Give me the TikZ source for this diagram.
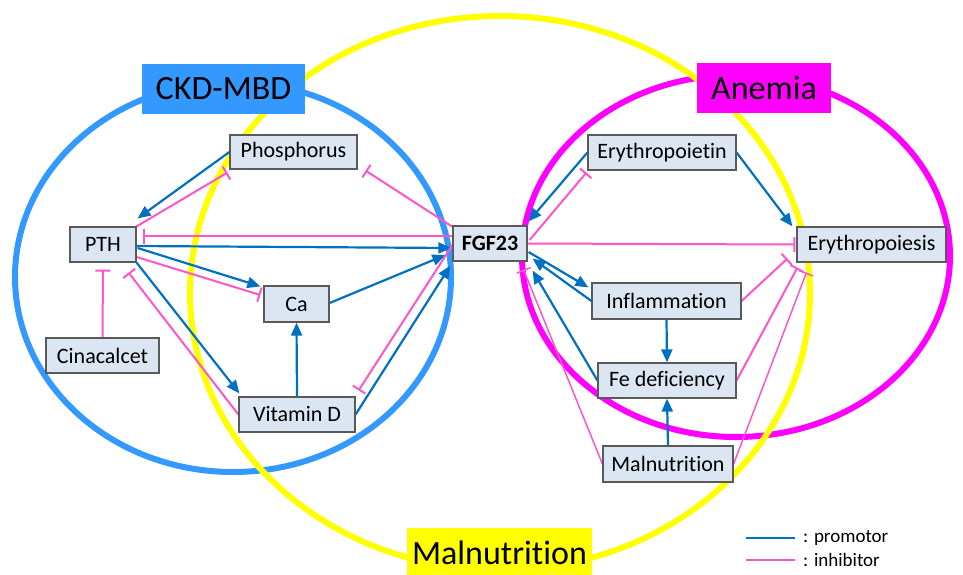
\documentclass[tikz,border=0pt]{standalone}
\usepackage{fontspec}
\setmainfont{Carlito}[Ligatures=NoCommon]
\usetikzlibrary{arrows.meta,calc}
\definecolor{promo}{RGB}{0,112,192}
\definecolor{inhib}{RGB}{255,85,200}
\definecolor{ckdblue}{RGB}{51,153,255}
\definecolor{anemag}{RGB}{255,0,255}
\definecolor{malyel}{RGB}{255,255,0}
\definecolor{boxfill}{RGB}{220,230,242}
\definecolor{boxline}{RGB}{90,90,90}
\pgfdeclarelayer{rings}
\pgfdeclarelayer{links}
\pgfsetlayers{rings,links,main}
\begin{document}
\begin{tikzpicture}[x=1pt,y=-1pt,
  factor/.style={draw=boxline,line width=1.2pt,fill=boxfill,inner sep=0pt,font=\fontsize{22}{26}\selectfont},
  grouplabel/.style={inner sep=0pt,font=\fontsize{34}{40}\selectfont},
  promotes/.style={draw=promo,line width=2.2pt,-{Triangle[length=13pt,width=11pt]}},
  inhibits/.style={draw=inhib,line width=2pt,-{Bar[width=15pt]}},
  thininhib/.style={inhibits,line width=1.5pt},
  ring/.style={line width=6pt},
  legendtext/.style={anchor=west,inner sep=0pt,font=\fontsize{19}{23}\selectfont}]
\useasboundingbox (0,0) rectangle (963,574);

% factors
\node[factor,minimum width=127pt,minimum height=34pt] (ph) at (293.5,152) {Phosphorus};
\node[factor,minimum width=66pt,minimum height=35pt] (pth) at (103,244.5) {PTH};
\node[factor,minimum width=74pt,minimum height=35pt,font=\fontsize{22}{26}\selectfont\bfseries] (fgf) at (490,243.5) {FGF23};
\node[factor,minimum width=65pt,minimum height=36pt] (ca) at (296.5,304) {Ca};
\node[factor,minimum width=113pt,minimum height=35pt] (cin) at (102.5,355.5) {Cinacalcet};
\node[factor,minimum width=116pt,minimum height=35pt] (vd) at (297,414.5) {Vitamin D};
\node[factor,minimum width=148pt,minimum height=35pt] (epo) at (662,152.5) {Erythropoietin};
\node[factor,minimum width=149pt,minimum height=35pt] (ery) at (871.5,244.5) {Erythropoiesis};
\node[factor,minimum width=149pt,minimum height=36pt] (infl) at (666.5,301) {Inflammation};
\node[factor,minimum width=138pt,minimum height=35pt] (fe) at (667,380.5) {Fe deficiency};
\node[factor,minimum width=130pt,minimum height=36pt] (mal) at (668,464) {Malnutrition};

\begin{pgfonlayer}{rings}
% group rings
\draw[ring,ckdblue] (233,277) ellipse [x radius=218pt,y radius=195pt];
\draw[ring,anemag] (736,256) ellipse [x radius=214pt,y radius=181pt];
\draw[ring,malyel] (500,293) ellipse [x radius=310pt,y radius=277pt];
% group labels
\node[grouplabel,fill=ckdblue,minimum width=163pt,minimum height=50pt] (lckd) at (223.5,89) {CKD-MBD};
\node[grouplabel,fill=anemag,minimum width=134pt,minimum height=50pt] (lane) at (764,88) {Anemia};
\node[grouplabel,fill=malyel,minimum width=185pt,minimum height=50pt] (lmal) at (499.5,553) {Malnutrition};
\end{pgfonlayer}

\begin{pgfonlayer}{links}
% left side
\draw[promotes] (ph.west) -- ($(pth.north east)+(1,-8)$);
\draw[inhibits] (pth.north east) -- ($(ph.south west)+(-2,3)$);
\draw[inhibits] ($(fgf.west)+(0,-7.5)$) -- ($(pth.east)+(6,-8.5)$);
\draw[promotes] ($(pth.east)+(0,1.5)$) -- ($(fgf.west)+(-1,4.5)$);
\draw[promotes] ($(pth.east)+(1,3.5)$) -- ($(ca.north west)+(-3,1)$);
\draw[inhibits] ($(pth.east)+(0,12.5)$) -- ($(ca.west)+(-3,-9)$);
\draw[inhibits] ($(fgf.north west)+(1,2)$) -- ($(ph.south east)+(8,1)$);
\draw[promotes] ($(ca.east)+(0,-1)$) -- ($(fgf.west)+(-7,11.5)$);
\draw[promotes] (vd.east) -- ($(fgf.south west)+(-2,4)$);
\draw[inhibits] ($(fgf.west)+(1,0)$) -- ($(vd.north east)+(3,-6)$);
\draw[promotes] (pth.south east) -- ($(vd.north west)+(1,-3)$);
\draw[inhibits] (vd.west) -- ($(pth.south east)+(-8,10)$);
\draw[inhibits] (cin.north) -- ($(pth.south)+(0,7)$);
\draw[promotes] (vd.north) -- (ca.south);
% right side
\draw[promotes] (epo.west) -- ($(fgf.north east)+(1,-4)$);
\draw[inhibits] ($(fgf.east)+(2,-3.5)$) -- ($(epo.south west)+(-1,2)$);
\draw[promotes] (epo.east) -- ($(ery.north west)+(-4,0)$);
\draw[inhibits] (fgf.east) -- ($(ery.west)+(-1,0)$);
\draw[promotes] ($(fgf.east)+(1,8.5)$) -- ($(infl.north west)+(-3,5)$);
\draw[promotes] (infl.west) -- ($(fgf.south east)+(5,-3)$);
\draw[inhibits] (infl.east) -- ($(ery.south west)+(-9,-4)$);
\draw[promotes] (fe.west) -- ($(fgf.south east)+(5,9)$);
\draw[inhibits] (fe.east) -- ($(ery.south west)+(1,5)$);
\draw[thininhib] (mal.west) -- ($(fgf.south east)+(-4,8)$);
\draw[thininhib] (mal.east) -- ($(ery.south west)+(10,10)$);
\draw[promotes] (infl.south) -- (fe.north);
\draw[promotes] (mal.north) -- (fe.south);
\end{pgfonlayer}

% legend
\coordinate (pa) at (746,538);
\coordinate (pb) at (795,538);
\coordinate (ia) at (746,560);
\coordinate (ib) at (795,560);
\draw[promo,line width=2pt] (pa) -- (pb);
\draw[inhib,line width=2pt] (ia) -- (ib);
\node[legendtext] (lp) at (803,538) {: promotor};
\node[legendtext] (li) at (803,560) {: inhibitor};
\end{tikzpicture}
\end{document}
